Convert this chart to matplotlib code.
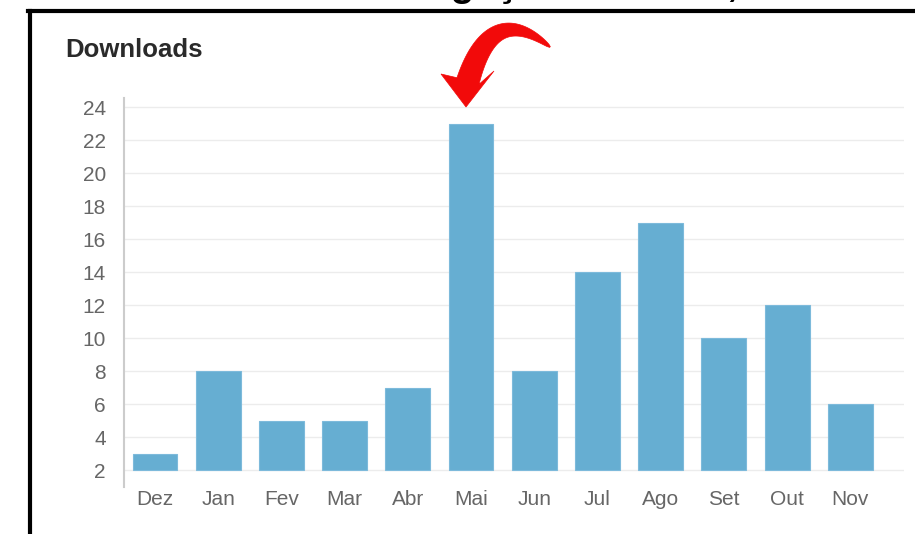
"""Downloads por mês: barras com seta vermelha apontando o pico (Mai)."""

import matplotlib
matplotlib.use("Agg")
import matplotlib.pyplot as plt
import matplotlib.patches as mpatches
from matplotlib.lines import Line2D
import numpy as np

plt.rcParams["font.family"] = ["Liberation Sans", "DejaVu Sans"]

# ---------------------------------------------------------------------------
# Data
# ---------------------------------------------------------------------------
months = ["Dez", "Jan", "Fev", "Mar", "Abr", "Mai", "Jun", "Jul", "Ago", "Set", "Out", "Nov"]
downloads = [3, 8, 5, 5, 7, 23, 8, 14, 17, 10, 12, 6]
y_ticks = [2, 4, 6, 8, 10, 12, 14, 16, 18, 20, 22, 24]
y_base = 2  # axis minimum, bars start here

W, H = 915, 534
_BAR = "#66aed2"
_TICK = "#666666"
_RED = "#f20a0a"


def px(x, y):
    """pixel (top-left origin) -> figure fraction"""
    return x / W, 1 - y / H


def _brush_arrow():
    """Tapered curved arrow (pixel coords), returned as polygon in fig fraction."""
    S = np.array([550.0, 47.0])   # thin tail end
    C = np.array([492.0, 0.0])    # bezier control
    B = np.array([468.0, 81.0])   # head base
    t = np.linspace(0, 1, 60)[:, None]
    pts = (1 - t) ** 2 * S + 2 * (1 - t) * t * C + t ** 2 * B
    d = 2 * (1 - t) * (C - S) + 2 * t * (B - C)
    d = d / np.linalg.norm(d, axis=1, keepdims=True)
    n = np.column_stack([-d[:, 1], d[:, 0]])
    w = 0.5 + 11.0 * t[:, 0] ** 0.6
    side_a = pts + n * w[:, None]
    side_b = pts - n * w[:, None]
    # make sure side_a is the left (smaller x) side at the head end
    if side_a[-1, 0] > side_b[-1, 0]:
        side_a, side_b = side_b, side_a
    head = np.array([[441.0, 74.0], [466.0, 107.0], [494.0, 71.0]])
    poly = np.vstack([side_a, head, side_b[::-1]])
    return [px(x, y) for x, y in poly]


fig = plt.figure(figsize=(W / 100, H / 100), dpi=100)
ax = fig.add_axes([124 / W, 47 / H, (904 - 124) / W, (487 - 98) / H])

x = range(len(months))
ax.bar(x, [v - y_base for v in downloads], bottom=y_base, width=0.71,
       color=_BAR, edgecolor="#7dbadb", linewidth=0.8, zorder=2)

ax.set_xlim(-0.49, 11.85)
ax.set_ylim(0.97, 24.55)
ax.set_yticks(y_ticks)
ax.set_xticks(list(x))
ax.set_xticklabels(months)
ax.tick_params(axis="both", length=0, labelsize=15, colors=_TICK)
ax.tick_params(axis="y", pad=13)
ax.tick_params(axis="x", pad=2)
ax.grid(axis="y", color="#ececec", linewidth=1.0, zorder=0)
for s in ["top", "right", "bottom"]:
    ax.spines[s].set_visible(False)
ax.spines["left"].set_color("#cccccc")
ax.spines["left"].set_linewidth(1.5)

# title
fig.text(*px(65, 57), "Downloads", fontsize=18.5, fontweight="bold",
         color="#2a2a2a", ha="left", va="baseline")

# cropped heading above the frame (only descenders visible)
fig.text(*px(362, -4), "navegação em 2023, 2024", fontsize=28, fontweight="bold",
         color="black", ha="left", va="baseline")

# black frame (left + top)
fig.add_artist(Line2D([px(30, 0)[0], px(30, 0)[0]], [px(0, 11)[1], 0],
                      color="black", linewidth=3, transform=fig.transFigure))
fig.add_artist(Line2D([px(28, 0)[0], 1], [px(0, 11)[1], px(0, 11)[1]],
                      color="black", linewidth=3, transform=fig.transFigure))

# red curved arrow pointing at Mai
fig.add_artist(mpatches.Polygon(_brush_arrow(), closed=True, facecolor=_RED,
                                edgecolor=_RED, linewidth=0.5,
                                transform=fig.transFigure))

fig.savefig("out.png", dpi=100)
